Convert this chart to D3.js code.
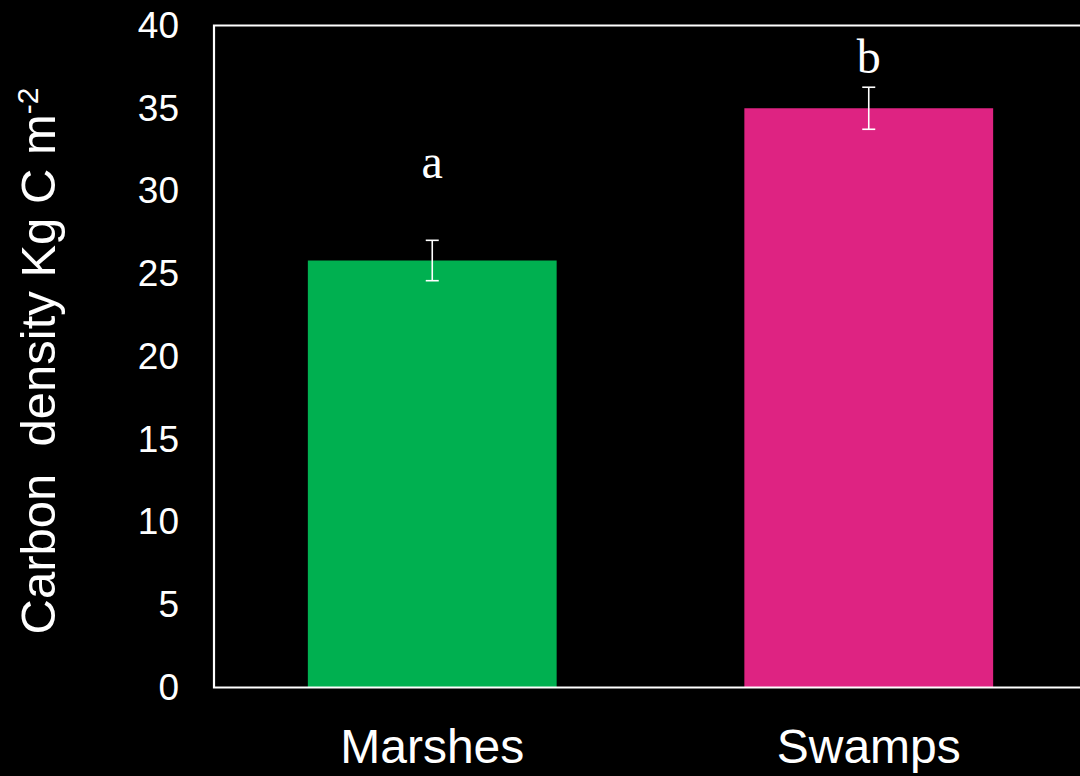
<!DOCTYPE html>
<html>
<head>
<meta charset="utf-8">
<script src="https://cdn.jsdelivr.net/npm/d3@7"></script>
<style>
  html, body { margin: 0; padding: 0; background: #000; }
  svg { display: block; }
</style>
</head>
<body>
<script>
const categories = ["Marshes", "Swamps"];
const values = [25.8, 35.0];
const errors = [1.22, 1.27];
const letters = ["a", "b"];
const colors = ["#00B050", "#DE2382"];
const yTicks = [0, 5, 10, 15, 20, 25, 30, 35, 40];

const W = 1080, H = 776;
const svg = d3.select("body").append("svg").attr("width", W).attr("height", H)
  .style("background", "#000");

const x = d3.scaleBand().domain(categories).range([214, 1087])
  .paddingInner(0.43).paddingOuter(0.215);
const y = d3.scaleLinear().domain([0, 40]).range([687.5, 25.5]);

// bars
svg.selectAll("rect.bar").data(categories).enter().append("rect")
  .attr("class", "bar")
  .attr("x", d => x(d))
  .attr("width", x.bandwidth())
  .attr("y", (d, i) => y(values[i]))
  .attr("height", (d, i) => y(0) - y(values[i]))
  .attr("fill", (d, i) => colors[i]);

// error bars
const eb = svg.append("g").attr("stroke", "#fff").attr("stroke-width", 1.6);
categories.forEach((c, i) => {
  const cx = x(c) + x.bandwidth() / 2;
  const t = y(values[i] + errors[i]), b = y(values[i] - errors[i]);
  eb.append("line").attr("x1", cx).attr("x2", cx).attr("y1", t).attr("y2", b);
  eb.append("line").attr("x1", cx - 6.5).attr("x2", cx + 6.5).attr("y1", t).attr("y2", t);
  eb.append("line").attr("x1", cx - 6.5).attr("x2", cx + 6.5).attr("y1", b).attr("y2", b);
});

// significance letters (gap above error bar top, layout constant)
const letterGap = [62, 14];
svg.selectAll("text.sig").data(categories).enter().append("text")
  .attr("class", "sig")
  .attr("x", d => x(d) + x.bandwidth() / 2)
  .attr("y", (d, i) => y(values[i] + errors[i]) - letterGap[i])
  .attr("text-anchor", "middle")
  .attr("font-family", "Liberation Serif, serif")
  .attr("font-size", 48)
  .attr("fill", "#fff")
  .text((d, i) => letters[i]);

// frame
svg.append("path")
  .attr("d", `M${W + 10},${y(40)}H${x.range()[0]}V${y(0)}H${W + 10}`)
  .attr("fill", "none").attr("stroke", "#fff").attr("stroke-width", 2.2);

// y axis
const yAxis = d3.axisLeft(y).tickValues(yTicks).tickSize(0).tickPadding(35);
const gy = svg.append("g").attr("transform", `translate(${x.range()[0]},0)`).call(yAxis);
gy.select(".domain").remove();
gy.selectAll("text").attr("fill", "#fff")
  .attr("font-family", "Liberation Sans, Arial, sans-serif").attr("font-size", 37);

// x axis
const xAxis = d3.axisBottom(x).tickSize(0);
const gx = svg.append("g").attr("transform", `translate(0,${y(0)})`).call(xAxis);
gx.select(".domain").remove();
gx.selectAll("text").attr("fill", "#fff")
  .attr("dy", null).attr("y", 763 - y(0))
  .attr("font-family", "Liberation Sans, Arial, sans-serif").attr("font-size", 48);

// y title
const title = svg.append("text")
  .attr("transform", `translate(55,${361}) rotate(-90)`)
  .attr("text-anchor", "middle")
  .attr("fill", "#fff")
  .attr("font-family", "Liberation Sans, Arial, sans-serif")
  .attr("font-size", 49)
  .attr("xml:space", "preserve")
  .style("white-space", "pre");
title.append("tspan").text("Carbon  density Kg C m");
title.append("tspan").attr("font-size", 30).attr("dy", -17).text("-2");
</script>
</body>
</html>
